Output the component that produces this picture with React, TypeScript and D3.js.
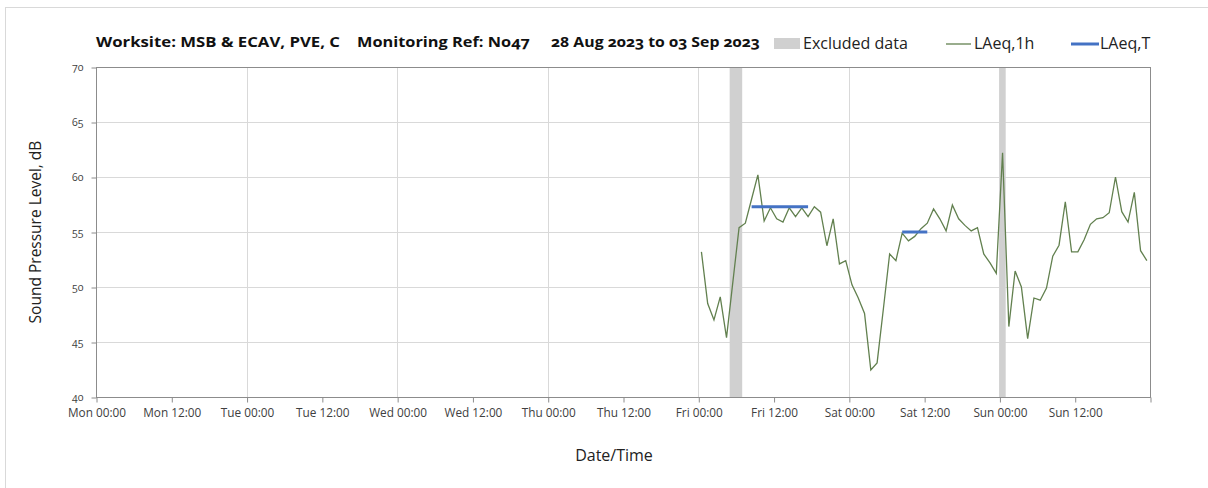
import React, { useEffect, useRef } from "react";
import * as d3 from "d3";

// hourly LAeq,1h values, first point Fri 01 Sep 2023 00:30, one per hour
const seriesStart = new Date(2023, 8, 1, 0, 30);
const laeq1h: (number | null)[] = [
  53.2, 48.5, 47.0, 49.1, 45.4, null, 55.4, 55.8, 58.0, 60.2,
  56.0, 57.2, 56.2, 55.9, 57.2, 56.4, 57.2, 56.4, 57.3, 56.8,
  53.75, 56.2, 52.1, 52.4, 50.2, 49.0, 47.6, 42.45, 43.1, 48.0,
  53.0, 52.4, 54.9, 54.2, 54.6, 55.3, 55.8, 57.1, 56.2, 55.1,
  57.45, 56.2, 55.6, 55.1, 55.4, 53.0, 52.2, 51.25, 62.2, 46.4,
  51.45, 50.0, 45.3, 49.0, 48.8, 49.9, 52.8, 53.8, 57.75, 53.2,
  53.2, 54.3, 55.7, 56.2, 56.3, 56.75, 60.0, 56.85, 55.9, 58.6,
  53.3, 52.4,
];

// LAeq,T periods
const laeqTStart = [new Date(2023, 8, 1, 8, 30), new Date(2023, 8, 2, 8, 30)];
const laeqTEnd = [new Date(2023, 8, 1, 17, 30), new Date(2023, 8, 2, 12, 30)];
const laeqTValue = [57.3, 55.0];

// excluded data periods
const excludedStart = [new Date(2023, 8, 1, 5, 0), new Date(2023, 8, 3, 0, 0)];
const excludedEnd = [new Date(2023, 8, 1, 7, 0), new Date(2023, 8, 3, 1, 0)];

const yTicks = [40, 45, 50, 55, 60, 65, 70];
const titleParts = [
  "Worksite: MSB & ECAV, PVE, C",
  "Monitoring Ref: No47",
  "28 Aug 2023 to 03 Sep 2023",
];

const FONT = "'Open Sans', Lato, sans-serif";

export default function App() {
  const ref = useRef<SVGSVGElement>(null);

  useEffect(() => {
    document.body.style.margin = "0";
    const svg = d3.select(ref.current);
    svg.selectAll("*").remove();

    const left = 96, right = 1150, top = 67, bottom = 397;

    const x = d3
      .scaleTime()
      .domain([new Date(2023, 7, 28), new Date(2023, 8, 4)])
      .range([left, right]);
    const y = d3.scaleLinear().domain([40, 70]).range([bottom, top]);

    svg
      .append("rect")
      .attr("x", 5.5)
      .attr("y", 7.5)
      .attr("width", 1220)
      .attr("height", 500)
      .attr("fill", "white")
      .attr("stroke", "#d9d9d9");

    // grid
    svg
      .append("g")
      .selectAll("line")
      .data(yTicks)
      .join("line")
      .attr("x1", left)
      .attr("x2", right)
      .attr("y1", d => Math.round(y(d)) + 0.5)
      .attr("y2", d => Math.round(y(d)) + 0.5)
      .attr("stroke", "#d9d9d9");

    const days = d3.timeDay.range(x.domain()[0], x.domain()[1]);
    svg
      .append("g")
      .selectAll("line")
      .data(days)
      .join("line")
      .attr("x1", d => Math.round(x(d)) + 0.5)
      .attr("x2", d => Math.round(x(d)) + 0.5)
      .attr("y1", top)
      .attr("y2", bottom)
      .attr("stroke", "#d9d9d9");

    // excluded bands
    svg
      .append("g")
      .selectAll("rect")
      .data(excludedStart.map((s, i) => [s, excludedEnd[i]]))
      .join("rect")
      .attr("x", d => x(d[0]))
      .attr("width", d => x(d[1]) - x(d[0]))
      .attr("y", top)
      .attr("height", bottom - top)
      .attr("fill", "#d0d0d0");

    // plot frame
    svg
      .append("rect")
      .attr("x", left + 0.5)
      .attr("y", top + 0.5)
      .attr("width", right - left)
      .attr("height", bottom - top)
      .attr("fill", "none")
      .attr("stroke", "#8c8c8c");

    // axes
    const xAxis = d3
      .axisBottom(x)
      .ticks(d3.timeHour.every(12))
      .tickFormat(d => d3.timeFormat("%a %H:%M")(d as Date))
      .tickSize(5)
      .tickPadding(6);
    const gx = svg
      .append("g")
      .attr("transform", `translate(0.5,${bottom + 0.5})`)
      .call(xAxis);
    gx.select(".domain").remove();
    gx.selectAll(".tick line").attr("stroke", "#8c8c8c");
    gx.selectAll(".tick")
      .filter((d: any) => +d >= +x.domain()[1])
      .select("text")
      .remove();
    gx.selectAll("text")
      .attr("font-family", FONT)
      .attr("font-size", 11.8)
      .attr("fill", "#404040");

    const yAxis = d3.axisLeft(y).tickValues(yTicks).tickSize(5).tickPadding(8);
    const gy = svg
      .append("g")
      .attr("transform", `translate(${left + 0.5},0.5)`)
      .call(yAxis);
    gy.select(".domain").remove();
    gy.selectAll(".tick line").attr("stroke", "#8c8c8c");
    gy.selectAll("text")
      .attr("font-family", FONT)
      .attr("font-size", 10.5)
      .attr("fill", "#404040")
      .style("font-variant-numeric", "oldstyle-nums");

    // LAeq,1h line (connects across missing hours)
    const pts = laeq1h
      .map((v, i) => ({ t: d3.timeHour.offset(seriesStart, i), v }))
      .filter(d => d.v !== null) as { t: Date; v: number }[];
    const line = d3
      .line<{ t: Date; v: number }>()
      .x(d => x(d.t))
      .y(d => y(d.v));
    svg
      .append("path")
      .datum(pts)
      .attr("d", line)
      .attr("fill", "none")
      .attr("stroke", "#62804f")
      .attr("stroke-width", 1.3);

    // LAeq,T
    svg
      .append("g")
      .selectAll("line")
      .data(laeqTValue.map((v, i) => ({ s: laeqTStart[i], e: laeqTEnd[i], v })))
      .join("line")
      .attr("x1", d => x(d.s))
      .attr("x2", d => x(d.e))
      .attr("y1", d => y(d.v))
      .attr("y2", d => y(d.v))
      .attr("stroke", "#4472c4")
      .attr("stroke-width", 3);

    // title
    const titleX = [96, 357, 551];
    const titleW = [244, 173, 209];
    svg
      .append("g")
      .selectAll("text")
      .data(titleParts)
      .join("text")
      .attr("x", (d, i) => titleX[i])
      .attr("y", 47)
      .attr("textLength", (d, i) => titleW[i])
      .attr("lengthAdjust", "spacingAndGlyphs")
      .attr("font-family", FONT)
      .attr("font-weight", "bold")
      .attr("font-size", 15)
      .attr("fill", "#111")
      .style("font-variant-numeric", "oldstyle-nums")
      .text(d => d);

    // legend
    const lg = svg.append("g").attr("font-family", FONT).attr("font-size", 16).attr("fill", "#222");
    lg.append("rect").attr("x", 774).attr("y", 38).attr("width", 26).attr("height", 11).attr("fill", "#d0d0d0");
    lg.append("text").attr("x", 803).attr("y", 49).text("Excluded data");
    lg.append("line").attr("x1", 946).attr("x2", 971).attr("y1", 44).attr("y2", 44)
      .attr("stroke", "#62804f").attr("stroke-width", 1.3);
    lg.append("text").attr("x", 974).attr("y", 49).text("LAeq,1h");
    lg.append("line").attr("x1", 1071).attr("x2", 1099).attr("y1", 44).attr("y2", 44)
      .attr("stroke", "#4472c4").attr("stroke-width", 3);
    lg.append("text").attr("x", 1100).attr("y", 49).text("LAeq,T");

    // axis titles
    svg
      .append("text")
      .attr("transform", `translate(41,${(top + bottom) / 2}) rotate(-90)`)
      .attr("text-anchor", "middle")
      .attr("font-family", FONT)
      .attr("font-size", 15.5)
      .attr("fill", "#222")
      .text("Sound Pressure Level, dB");
    svg
      .append("text")
      .attr("x", 614)
      .attr("y", 461)
      .attr("text-anchor", "middle")
      .attr("font-family", FONT)
      .attr("font-size", 16)
      .attr("fill", "#222")
      .text("Date/Time");
  }, []);

  return <svg ref={ref} width={1208} height={488} style={{ display: "block" }} />;
}
